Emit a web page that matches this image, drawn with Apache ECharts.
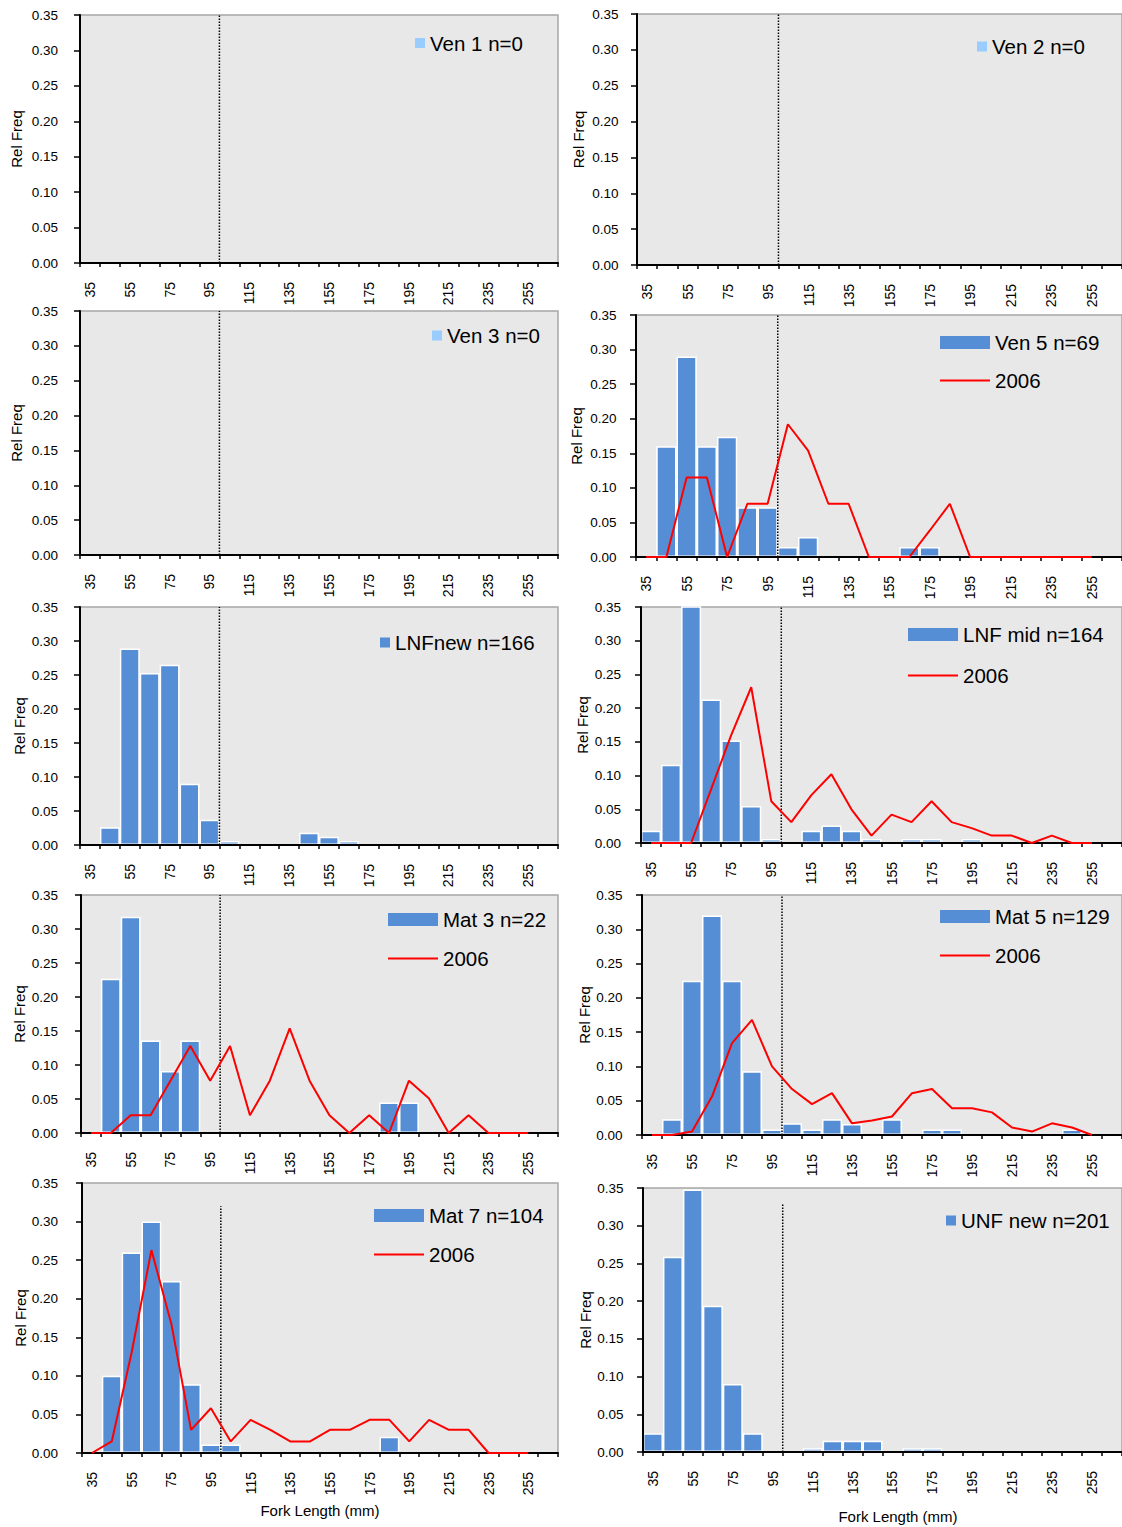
<!DOCTYPE html>
<html>
<head>
<meta charset="utf-8">
<script src="https://cdn.jsdelivr.net/npm/echarts@6/dist/echarts.min.js"></script>
<style>
  html, body { margin: 0; padding: 0; background: #ffffff; }
  #chart { width: 1122px; height: 1527px; }
</style>
</head>
<body>
<div id="chart"></div>
<script>
// Fork-length bins (mm), one category per 10 mm class
const lengthBins = ['35','45','55','65','75','85','95','105','115','125','135','145',
                    '155','165','175','185','195','205','215','225','235','245','255','265'];

// Relative frequency per bin (35 ... 265)
const ven1Freq   = [0,0,0,0,0,0,0,0,0,0,0,0,0,0,0,0,0,0,0,0,0,0,0,0];
const ven2Freq   = [0,0,0,0,0,0,0,0,0,0,0,0,0,0,0,0,0,0,0,0,0,0,0,0];
const ven3Freq   = [0,0,0,0,0,0,0,0,0,0,0,0,0,0,0,0,0,0,0,0,0,0,0,0];
const ven5Freq   = [0,0.160,0.290,0.160,0.174,0.072,0.072,0.0145,0.029,0,0,0,0,0.0145,0.0145,0,0,0,0,0,0,0,0,0];
const lnfNewFreq = [0,0.026,0.289,0.253,0.265,0.090,0.037,0.006,0,0,0,0.018,0.012,0.006,0,0,0,0,0,0,0,0,0,0];
const lnfMidFreq = [0.018,0.116,0.354,0.213,0.152,0.055,0.006,0,0.018,0.026,0.018,0.006,0,0.006,0.006,0,0.006,0,0,0,0,0,0,0];
const mat3Freq   = [0,0.227,0.318,0.136,0.091,0.136,0,0,0,0,0,0,0,0,0,0.045,0.045,0,0,0,0,0,0,0];
const mat5Freq   = [0,0.023,0.225,0.320,0.225,0.093,0.008,0.017,0.008,0.023,0.016,0,0.023,0,0.008,0.008,0,0,0,0,0,0.008,0,0];
const mat7Freq   = [0,0.100,0.260,0.300,0.223,0.089,0.011,0.011,0,0,0,0,0,0,0,0.021,0,0,0,0,0,0,0,0];
const unfNewFreq = [0.025,0.259,0.348,0.194,0.090,0.025,0,0,0.005,0.015,0.015,0.015,0,0.005,0.005,0,0,0,0,0,0,0,0,0];

// 2006 relative frequency per bin (35 ... 255)
const ven5Freq2006   = [0,0,0.115,0.115,0,0.077,0.077,0.192,0.154,0.077,0.077,0,0,0,0.038,0.077,0,0,0,0,0,0,0];
const lnfMidFreq2006 = [0,0,0,0.080,0.160,0.231,0.062,0.031,0.071,0.102,0.050,0.011,0.042,0.031,0.062,0.031,0.022,0.011,0.011,0,0.011,0,0];
const mat3Freq2006   = [0,0,0.026,0.026,0.077,0.128,0.077,0.128,0.026,0.077,0.154,0.077,0.026,0,0.026,0,0.077,0.051,0,0.026,0,0,0];
const mat5Freq2006   = [0,0,0.005,0.056,0.134,0.168,0.100,0.067,0.045,0.061,0.017,0.021,0.027,0.061,0.067,0.039,0.039,0.033,0.011,0.005,0.017,0.011,0];
const mat7Freq2006   = [0,0.015,0.130,0.263,0.168,0.030,0.058,0.015,0.043,0.030,0.015,0.015,0.030,0.030,0.043,0.043,0.015,0.043,0.030,0.030,0,0,0];

// Size threshold (mm) marked by the dotted line
const cutoffLength = 100;

const panels = [
  { label: 'Ven 1 n=0',      bars: ven1Freq,   line: null,           color: '#99CCFF' },
  { label: 'Ven 2 n=0',      bars: ven2Freq,   line: null,           color: '#99CCFF' },
  { label: 'Ven 3 n=0',      bars: ven3Freq,   line: null,           color: '#99CCFF' },
  { label: 'Ven 5 n=69',     bars: ven5Freq,   line: ven5Freq2006,   color: '#558ED5' },
  { label: 'LNFnew n=166',   bars: lnfNewFreq, line: null,           color: '#558ED5' },
  { label: 'LNF mid n=164',  bars: lnfMidFreq, line: lnfMidFreq2006, color: '#558ED5' },
  { label: 'Mat 3 n=22',     bars: mat3Freq,   line: mat3Freq2006,   color: '#558ED5' },
  { label: 'Mat 5 n=129',    bars: mat5Freq,   line: mat5Freq2006,   color: '#558ED5' },
  { label: 'Mat 7 n=104',    bars: mat7Freq,   line: mat7Freq2006,   color: '#558ED5' },
  { label: 'UNF new n=201',  bars: unfNewFreq, line: null,           color: '#558ED5' }
];

// Panel placement on the page
const layout = [
  { left: 80,  top: 15,   width: 478, height: 248, labelGap: 22,   nameGap: 56,   lgLeft: 415, lgTop: 32.5 },
  { left: 637, top: 14,   width: 487, height: 251, labelGap: 18.5, nameGap: 51.5, lgLeft: 977, lgTop: 36 },
  { left: 80,  top: 311,  width: 478, height: 244, labelGap: 22,   nameGap: 56,   lgLeft: 432, lgTop: 325 },
  { left: 636, top: 315,  width: 488, height: 242, labelGap: 19.5, nameGap: 52.5, lgLeft: 940, lgTop: 332, lgGap: 17 },
  { left: 80,  top: 607,  width: 478, height: 238, labelGap: 22,   nameGap: 53.5, lgLeft: 380, lgTop: 632 },
  { left: 641, top: 607,  width: 487, height: 236, labelGap: 20,   nameGap: 51.5, lgLeft: 908, lgTop: 624, lgGap: 20 },
  { left: 81,  top: 895,  width: 477, height: 238, labelGap: 23,   nameGap: 54.5, lgLeft: 388, lgTop: 909, lgGap: 18 },
  { left: 642, top: 895,  width: 487, height: 240, labelGap: 19.5, nameGap: 49.5, lgLeft: 940, lgTop: 906, lgGap: 18 },
  { left: 82,  top: 1183, width: 476, height: 270, labelGap: 24,   nameGap: 54.5, lgLeft: 374, lgTop: 1205, lgGap: 18,
    cutTop: 0.32, xName: { gap: 50, shift: 0 } },
  { left: 643, top: 1188, width: 487, height: 264, labelGap: 19.5, nameGap: 49.5, lgLeft: 946, lgTop: 1210,
    cutTop: 0.33, xName: { gap: 57, shift: 31 } }
];

const FONT = 'Arial, "Liberation Sans", sans-serif';
const grid = [], xAxis = [], yAxis = [], series = [], legend = [];

panels.forEach((p, i) => {
  const L = layout[i];
  grid.push({
    left: L.left, top: L.top, width: L.width, height: L.height,
    show: true, backgroundColor: '#E8E8E8', borderColor: '#A6A6A6', borderWidth: 1.5
  });

  const xCat = {
    type: 'category', gridIndex: i, data: lengthBins, boundaryGap: true, z: 10,
    axisLine: { lineStyle: { color: '#000', width: 2 } },
    axisTick: { show: true, interval: 0, length: 4, lineStyle: { color: '#000', width: 1.5 } },
    axisLabel: { interval: 1, rotate: 90, margin: 19, fontSize: 14, color: '#000', fontFamily: FONT },
    splitLine: { show: false }
  };
  if (L.xName) {
    xCat.name = 'Fork Length (mm)';
    xCat.nameLocation = 'middle';
    xCat.nameGap = L.xName.gap;
    xCat.nameTextStyle = { fontSize: 15, color: '#000', fontFamily: FONT, padding: [0, 0, 0, L.xName.shift] };
  }
  xAxis.push(xCat);
  // continuous mm scale over the same band, used for the cutoff line
  xAxis.push({ type: 'value', gridIndex: i, min: 30, max: 270, show: false });

  yAxis.push({
    type: 'value', gridIndex: i, min: 0, max: 0.35, interval: 0.05, z: 10,
    axisLine: { show: true, lineStyle: { color: '#000', width: 2 } },
    axisTick: { show: true, length: 6, lineStyle: { color: '#000', width: 1.5 } },
    axisLabel: { margin: L.labelGap, fontSize: 13.5, color: '#000', fontFamily: FONT,
                 formatter: v => v.toFixed(2) },
    splitLine: { show: false },
    name: 'Rel Freq', nameLocation: 'middle', nameGap: L.nameGap,
    nameTextStyle: { fontSize: 15, color: '#000', fontFamily: FONT }
  });

  series.push({
    name: p.label, type: 'bar', xAxisIndex: 2 * i, yAxisIndex: i,
    data: p.bars, barCategoryGap: '0%', z: 2,
    itemStyle: { color: p.color, borderColor: '#ffffff', borderWidth: 1.5 },
    emphasis: { disabled: true }
  });

  if (p.line) {
    // 2006 line sits above the axes so its zero stretches stay visible
    series.push({
      name: '2006', type: 'line', xAxisIndex: 2 * i, yAxisIndex: i,
      data: p.line, symbol: 'none', z: 12, color: '#FF0000',
      itemStyle: { color: '#FF0000' },
      lineStyle: { color: '#FF0000', width: 2 },
      emphasis: { disabled: true }
    });
  }

  series.push({
    type: 'line', xAxisIndex: 2 * i + 1, yAxisIndex: i, silent: true, z: 5,
    data: [[cutoffLength, 0], [cutoffLength, L.cutTop || 0.35]],
    symbol: 'none', lineStyle: { color: '#000', width: 1.5, type: [1.5, 1.5] }
  });

  const lg = {
    orient: 'vertical', left: L.lgLeft, top: L.lgTop, padding: 0, selectedMode: false,
    itemStyle: { borderWidth: 0 },
    textStyle: { fontSize: 20.5, lineHeight: 20, color: '#000', fontFamily: FONT }
  };
  if (p.line) {
    lg.itemWidth = 50; lg.itemHeight = 13; lg.itemGap = L.lgGap;
    lg.data = [
      { name: p.label, icon: 'rect' },
      { name: '2006', icon: 'path://M0,0H50V2H0Z', itemStyle: { color: '#FF0000', borderWidth: 0 } }
    ];
  } else {
    lg.itemWidth = 10; lg.itemHeight = 10;
    lg.data = [{ name: p.label, icon: 'rect' }];
  }
  legend.push(lg);
});

const chart = echarts.init(document.getElementById('chart'), null, { renderer: 'svg' });
chart.setOption({
  animation: false,
  backgroundColor: '#ffffff',
  textStyle: { fontFamily: FONT },
  grid, xAxis, yAxis, series, legend
});
</script>
</body>
</html>
